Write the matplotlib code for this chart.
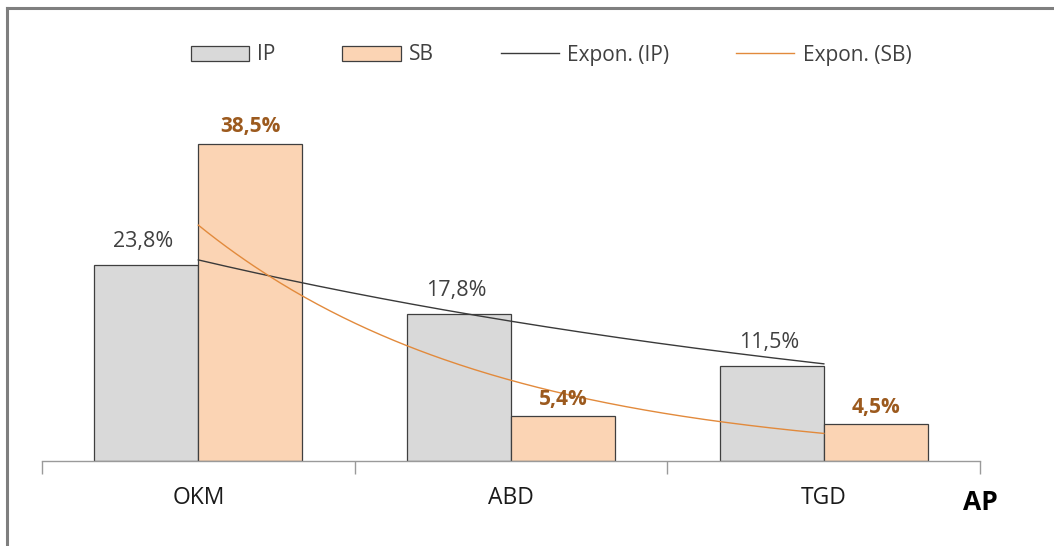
#!/usr/bin/env python3

import numpy as np
import matplotlib.pyplot as plt
from matplotlib.lines import Line2D

plt.rcParams['font.family'] = ['Open Sans', 'DejaVu Sans']

categories = ['OKM', 'ABD', 'TGD']
ip_vals = [23.8, 17.8, 11.5]
sb_vals = [38.5, 5.4, 4.5]
ip_labels = ['23,8%', '17,8%', '11,5%']
sb_labels = ['38,5%', '5,4%', '4,5%']
series_names = ['IP', 'SB', 'Expon. (IP)', 'Expon. (SB)']
axis_name = 'AP'

ip_fill = '#D9D9D9'
sb_fill = '#FBD4B4'
edge = '#3F3F3F'
ip_trend_col = '#3A3A3A'
sb_trend_col = '#E28A3C'
sb_text_col = '#9C5A1E'


def expon_fit(vals, xs):
    # y = a * exp(b * x) fitted on x = 1..n, like a spreadsheet trendline
    pos = np.arange(1, len(vals) + 1)
    b, ln_a = np.polyfit(pos, np.log(vals), 1)
    return np.exp(ln_a + b * (xs + 1))


def main():
    fig = plt.figure(figsize=(10.54, 5.46), dpi=100)
    ax = fig.add_axes([0.0398, 0.1557, 0.8902, 0.6795])

    x = np.arange(len(categories))
    w = 0.333
    bars_ip = ax.bar(x - w / 2, ip_vals, w, color=ip_fill, edgecolor=edge, linewidth=0.9)
    bars_sb = ax.bar(x + w / 2, sb_vals, w, color=sb_fill, edgecolor=edge, linewidth=0.9)

    xs = np.linspace(0, len(categories) - 1, 200)
    ax.plot(xs, expon_fit(ip_vals, xs), color=ip_trend_col, lw=1.0, zorder=3)
    ax.plot(xs, expon_fit(sb_vals, xs), color=sb_trend_col, lw=1.0, zorder=3)

    for rect, val, lab in zip(bars_ip, ip_vals, ip_labels):
        ax.annotate(lab, (rect.get_x() + rect.get_width() / 2, val),
                    xytext=(-2, 17), textcoords='offset points',
                    ha='center', va='center', fontsize=15.5, color='#404040')
    for rect, val, lab in zip(bars_sb, sb_vals, sb_labels):
        ax.annotate(lab, (rect.get_x() + rect.get_width() / 2, val),
                    xytext=(0, 12), textcoords='offset points',
                    ha='center', va='center', fontsize=15, color=sb_text_col,
                    fontweight='bold')

    ax.set_xlim(-0.5, len(categories) - 0.5)
    ax.set_ylim(0, 45)
    ax.set_yticks([])
    for s in ('left', 'right', 'top'):
        ax.spines[s].set_visible(False)
    ax.spines['bottom'].set_color('#9A9A9A')
    ax.spines['bottom'].set_linewidth(1.0)

    # tick marks between categories, labels centred under each group
    ax.set_xticks(np.arange(-0.5, len(categories), 1.0))
    ax.set_xticklabels([])
    ax.tick_params(axis='x', which='major', length=9, color='#9A9A9A', width=1.0)
    ax.set_xticks(x, minor=True)
    ax.set_xticklabels(categories, minor=True, fontsize=16.5, color='#1A1A1A')
    ax.tick_params(axis='x', which='minor', length=0, pad=18)

    fig.text(980 / 1054, 1 - 503 / 546, axis_name, ha='center', va='center',
             fontsize=19, fontweight='bold', color='black')

    handles = [
        plt.Rectangle((0, 0), 1, 1, facecolor=ip_fill, edgecolor=edge, linewidth=0.9),
        plt.Rectangle((0, 0), 1, 1, facecolor=sb_fill, edgecolor=edge, linewidth=0.9),
        Line2D([], [], color=ip_trend_col, lw=1.0),
        Line2D([], [], color=sb_trend_col, lw=1.0),
    ]
    leg = fig.legend(handles, series_names, loc='center', ncol=4,
                     bbox_to_anchor=(551 / 1054, 1 - 55 / 546), frameon=False,
                     fontsize=15, handlelength=2.8, handleheight=0.7,
                     handletextpad=0.4, columnspacing=3.2)
    for t in leg.get_texts():
        t.set_color('#404040')

    # outer chart frame
    fig.add_artist(Line2D([7 / 1054, 1.0], [1 - 8 / 546] * 2, transform=fig.transFigure,
                          color='#7F7F7F', lw=2.2))
    fig.add_artist(Line2D([7 / 1054] * 2, [0.0, 1 - 8 / 546], transform=fig.transFigure,
                          color='#7F7F7F', lw=2.2))

    plt.savefig('out.png', dpi=100)


if __name__ == '__main__':
    main()
